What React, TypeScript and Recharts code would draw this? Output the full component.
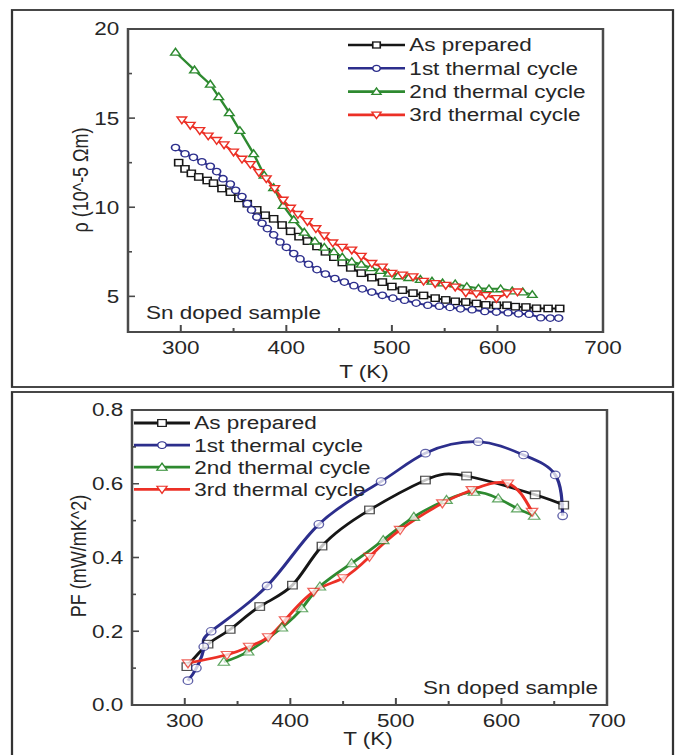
import React from 'react';
import { LineChart, Line, XAxis, YAxis, ReferenceArea } from 'recharts';

// the scanned figure is stretched sideways, so everything is drawn narrow and scaled back out
const SX = 1.25;
const W = 677 / SX;
const FONT = '"Liberation Sans", Arial, Helvetica, sans-serif';
const TEXT = '#262626';
const AXIS = '#4a4a4a';

// ---- top panel: resistivity rho (10^-5 Ohm m) vs T (K)
const rhoPreparedT = [298, 304, 310, 317, 325, 331, 339, 347, 355, 363, 372, 380, 388, 396, 404, 412, 420, 429, 437, 445, 453, 461, 471, 481, 491, 500, 510, 520, 530, 541, 551, 560, 570, 580, 589, 599, 609, 617, 627, 637, 648, 659];
const rhoPrepared = [12.5, 12.15, 11.9, 11.7, 11.5, 11.35, 11.05, 10.85, 10.5, 10.2, 9.85, 9.55, 9.35, 9.0, 8.65, 8.35, 8.1, 7.8, 7.5, 7.2, 6.9, 6.6, 6.3, 6.05, 5.8, 5.55, 5.35, 5.18, 5.05, 4.9, 4.8, 4.72, 4.68, 4.6, 4.52, 4.5, 4.5, 4.42, 4.4, 4.33, 4.32, 4.32];

const rhoCycle1T = [295, 304, 312, 320, 328, 334, 340, 347, 352, 358, 363, 367, 372, 377, 382, 388, 394, 400, 407, 413, 421, 429, 437, 446, 455, 464, 472, 481, 491, 501, 512, 523, 534, 545, 555, 565, 576, 588, 599, 610, 620, 630, 641, 650, 658];
const rhoCycle1 = [13.35, 13.0, 12.8, 12.55, 12.3, 12.0, 11.6, 11.3, 10.95, 10.6, 10.2, 9.85, 9.45, 9.1, 8.8, 8.45, 8.05, 7.75, 7.4, 7.1, 6.8, 6.5, 6.25, 6.0, 5.8, 5.6, 5.42, 5.24, 5.06, 4.9, 4.78, 4.62, 4.5, 4.45, 4.38, 4.3, 4.25, 4.15, 4.12, 4.08, 4.02, 4.0, 3.8, 3.78, 3.78];

const rhoCycle2T = [295, 313, 328, 336, 346, 356, 369, 379, 388, 397, 407, 417, 427, 436, 445, 453, 462, 471, 480, 489, 497, 506, 516, 527, 538, 548, 560, 571, 582, 592, 603, 614, 624, 633];
const rhoCycle2 = [18.7, 17.7, 16.9, 16.2, 15.3, 14.3, 13.0, 11.8, 11.1, 10.1, 9.3, 8.6, 8.1, 7.75, 7.5, 7.2, 6.95, 6.8, 6.6, 6.45, 6.3, 6.15, 6.05, 5.95, 5.85, 5.75, 5.7, 5.55, 5.45, 5.42, 5.42, 5.3, 5.25, 5.1];

const rhoCycle3T = [301, 309, 318, 326, 334, 341, 350, 358, 366, 374, 381, 389, 397, 404, 411, 420, 428, 436, 444, 453, 462, 471, 481, 491, 500, 510, 520, 530, 541, 551, 560, 570, 580, 589, 599, 609, 619];
const rhoCycle3 = [14.9, 14.6, 14.3, 14.0, 13.75, 13.5, 13.1, 12.7, 12.4, 11.95, 11.6, 11.05, 10.4, 9.95, 9.6, 9.2, 8.8, 8.4, 8.0, 7.75, 7.6, 7.25, 6.85, 6.65, 6.3, 6.2, 6.1, 5.85, 5.72, 5.62, 5.52, 5.2, 5.15, 5.05, 4.88, 5.15, 5.25];

// ---- bottom panel: power factor PF (mW/mK^2) vs T (K)
const pfPreparedT = [302, 322, 343, 371, 402, 430, 475, 528, 567, 632, 659];
const pfPrepared = [0.104, 0.165, 0.205, 0.267, 0.325, 0.431, 0.529, 0.61, 0.621, 0.57, 0.542];

const pfCycle1T = [303, 311, 318, 325, 378, 427, 486, 528, 578, 621, 651, 658];
const pfCycle1 = [0.066, 0.1, 0.158, 0.2, 0.323, 0.49, 0.606, 0.683, 0.714, 0.678, 0.624, 0.513];

const pfCycle2T = [337, 360, 392, 411, 428, 458, 488, 517, 548, 574, 597, 615, 631];
const pfCycle2 = [0.117, 0.145, 0.21, 0.262, 0.321, 0.384, 0.447, 0.51, 0.556, 0.578, 0.56, 0.533, 0.513];

const pfCycle3T = [303, 340, 361, 379, 395, 422, 450, 475, 504, 544, 572, 606, 629];
const pfCycle3 = [0.113, 0.136, 0.158, 0.184, 0.23, 0.307, 0.344, 0.402, 0.475, 0.547, 0.583, 0.601, 0.524];

const seriesNames = ['As prepared', '1st thermal cycle', '2nd thermal cycle', '3rd thermal cycle'];
const tempTicks = [300, 350, 400, 450, 500, 550, 600, 650, 700];
const rhoTicks = [5, 7.5, 10, 12.5, 15, 17.5, 20];
const pfTicks = [0, 0.1, 0.2, 0.3, 0.4, 0.5, 0.6, 0.7, 0.8];

const COLORS = ['#161616', '#2c2e8c', '#2e8a30', '#ec3026'];
const SHAPES = ['square', 'circle', 'up', 'down'];

const zip = (t: number[], v: number[]) => t.map((T, i) => ({ T, v: v[i] }));

const rhoSeries = [
  zip(rhoPreparedT, rhoPrepared),
  zip(rhoCycle1T, rhoCycle1),
  zip(rhoCycle2T, rhoCycle2),
  zip(rhoCycle3T, rhoCycle3),
];
const pfSeries = [
  zip(pfPreparedT, pfPrepared),
  zip(pfCycle1T, pfCycle1),
  zip(pfCycle2T, pfCycle2),
  zip(pfCycle3T, pfCycle3),
];

function Marker({ cx, cy, shape, color, r, sw }: any) {
  if (cx == null || cy == null) return null;
  const st = { fill: '#fff', stroke: color, strokeWidth: sw };
  if (shape === 'square') return <rect x={cx - r} y={cy - r} width={2 * r} height={2 * r} {...st} />;
  if (shape === 'circle') return <circle cx={cx} cy={cy} r={r} {...st} />;
  const h = r * 1.2;
  if (shape === 'up')
    return <polygon points={`${cx},${cy - h} ${cx + h},${cy + h * 0.75} ${cx - h},${cy + h * 0.75}`} {...st} />;
  return <polygon points={`${cx},${cy + h} ${cx + h},${cy - h * 0.75} ${cx - h},${cy - h * 0.75}`} {...st} />;
}

function XTick({ x, y, payload }: any) {
  const v = payload.value;
  const major = v % 100 === 0;
  return (
    <g>
      <line x1={x} x2={x} y1={y} y2={y - (major ? 7 : 4)} stroke={AXIS} strokeWidth={1.6} />
      {major && (
        <text x={x} y={y + 22} textAnchor="middle" fontSize={18} fontFamily={FONT} fill={TEXT}>
          {v}
        </text>
      )}
    </g>
  );
}

function YTick({ x, y, payload, isMajor, fmt }: any) {
  const v = payload.value;
  const major = isMajor(v);
  return (
    <g>
      <line x1={x} x2={x + (major ? 5.6 : 3.2)} y1={y} y2={y} stroke={AXIS} strokeWidth={1.6} />
      {major && (
        <text x={x - 7} y={y} dy="0.36em" textAnchor="end" fontSize={18} fontFamily={FONT} fill={TEXT}>
          {fmt(v)}
        </text>
      )}
    </g>
  );
}

function Panel({ top, height, margin, series, domainY, yTicks, isMajor, fmt, lineType, lineWidth, r, sw, markOpacity }: any) {
  return (
    <div style={{ position: 'absolute', left: 0, top }}>
      <LineChart width={W} height={height} margin={margin}>
        <XAxis
          type="number"
          dataKey="T"
          domain={[250, 700]}
          ticks={tempTicks}
          interval={0}
          allowDataOverflow
          axisLine={false}
          tickLine={false}
          tickSize={0}
          tickMargin={0}
          height={30}
          tick={(p: any) => <XTick {...p} />}
        />
        <YAxis
          type="number"
          domain={domainY}
          ticks={yTicks}
          interval={0}
          allowDataOverflow
          axisLine={false}
          tickLine={false}
          tickSize={0}
          tickMargin={0}
          width={50}
          tick={(p: any) => <YTick {...p} isMajor={isMajor} fmt={fmt} />}
        />
        <ReferenceArea
          x1={250}
          x2={700}
          y1={domainY[0]}
          y2={domainY[1]}
          fill="none"
          fillOpacity={0}
          stroke={AXIS}
          strokeWidth={2}
          ifOverflow="visible"
        />
        {series.map((data: any[], i: number) => (
          <Line
            key={seriesNames[i]}
            data={data}
            dataKey="v"
            name={seriesNames[i]}
            type={lineType}
            stroke={COLORS[i]}
            strokeWidth={lineWidth}
            activeDot={false}
            isAnimationActive={false}
            dot={(p: any) => (
              <g key={`${i}-${p.index}`} opacity={markOpacity}>
                <Marker cx={p.cx} cy={p.cy} shape={SHAPES[i]} color={COLORS[i]} r={r} sw={sw} />
              </g>
            )}
          />
        ))}
      </LineChart>
    </div>
  );
}

function LegendRows({ x1, x2, y0, dy, r, sw, lw }: any) {
  return (
    <g>
      {seriesNames.map((name, i) => {
        const y = y0 + i * dy;
        return (
          <g key={name}>
            <line x1={x1} x2={x2} y1={y} y2={y} stroke={COLORS[i]} strokeWidth={lw} />
            <Marker cx={(x1 + x2) / 2} cy={y} shape={SHAPES[i]} color={COLORS[i]} r={r} sw={sw} />
            <text x={x2 + 3.5} y={y} dy="0.36em" fontSize={18} fontFamily={FONT} fill={TEXT}>
              {name}
            </text>
          </g>
        );
      })}
    </g>
  );
}

export default function App() {
  const txt = { fontSize: 18, fontFamily: FONT, fill: TEXT };
  return (
    <div style={{ position: 'absolute', left: 0, top: 0, width: 677, height: 755, background: '#fff', overflow: 'hidden' }}>
      <div style={{ position: 'absolute', left: 0, top: 0, width: W, height: 755, transform: `scaleX(${SX})`, transformOrigin: '0 0' }}>
        <Panel
          top={0}
          height={392}
          margin={{ top: 29, right: 59.2, bottom: 30, left: 52.4 }}
          series={rhoSeries}
          domainY={[3, 20]}
          yTicks={rhoTicks}
          isMajor={(v: number) => v % 5 === 0}
          fmt={(v: number) => String(v)}
          lineType="linear"
          lineWidth={2}
          r={3.2}
          sw={1.3}
          markOpacity={1}
        />
        <Panel
          top={385}
          height={370}
          margin={{ top: 25, right: 56, bottom: 20, left: 55.6 }}
          series={pfSeries}
          domainY={[0, 0.8]}
          yTicks={pfTicks}
          isMajor={(v: number) => Math.round(v * 10) % 2 === 0}
          fmt={(v: number) => v.toFixed(1)}
          lineType="natural"
          lineWidth={2.6}
          r={3.8}
          sw={1.1}
          markOpacity={0.75}
        />
        <svg width={W} height={755} style={{ position: 'absolute', left: 0, top: 0, pointerEvents: 'none' }}>
          <rect x={9.6} y={10} width={528.8} height={377} fill="none" stroke="#333" strokeWidth={1.8} />
          <rect x={9.6} y={392} width={528.8} height={380} fill="none" stroke="#333" strokeWidth={1.8} />

          <LegendRows x1={278.4} x2={324} y0={45} dy={23.3} r={3} sw={1.3} lw={2.6} />
          <LegendRows x1={107.2} x2={152} y0={423} dy={22.1} r={3.4} sw={1.1} lw={2.8} />

          <text x={116.8} y={319} {...txt}>Sn doped sample</text>
          <text x={478.4} y={694} textAnchor="end" {...txt}>Sn doped sample</text>

          <text x={291.2} y={378} textAnchor="middle" {...txt}>T (K)</text>
          <text x={294.4} y={745} textAnchor="middle" {...txt}>T (K)</text>

          <text transform="translate(64,180) rotate(-90)" textAnchor="middle" dy="0.36em" {...txt}>
            ρ (10^-5 Ωm)
          </text>
          <text transform="translate(62.4,556) rotate(-90)" textAnchor="middle" dy="0.36em" {...txt}>
            PF (mW/mK^2)
          </text>
        </svg>
      </div>
    </div>
  );
}
